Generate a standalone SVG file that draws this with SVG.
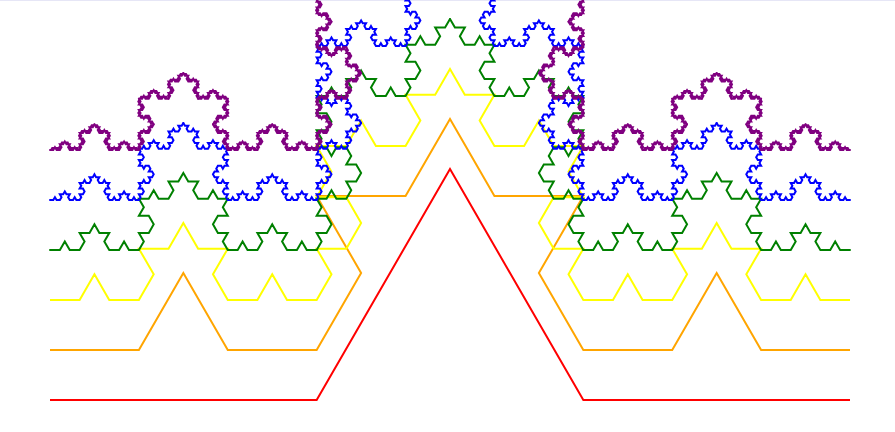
<svg xmlns="http://www.w3.org/2000/svg" xmlns:xlink="http://www.w3.org/1999/xlink" width="895" height="432" viewBox="0 0 895 432">
<style>
.k{fill:none;vector-effect:non-scaling-stroke;stroke-linejoin:miter;stroke-miterlimit:4}
.kr{fill:none;vector-effect:non-scaling-stroke;stroke-linejoin:miter;stroke-miterlimit:4;stroke-linecap:round}
.curve{fill:none;stroke-width:2}
</style>
<defs>
<!-- unit Koch curves: local units x = 1/54, y = (sqrt3/2)/27 -->
<path id="P1" class="k" d="M0,0 L18,0 27,-9 36,0 54,0"/>
<path id="P2" class="k" d="M0,0 L6,0 9,-3 12,0 18,0 21,-3 18,-6 24,-6 27,-9 30,-6 36,-6 33,-3 36,0 42,0 45,-3 48,0 54,0"/>
<path id="P3" class="k" d="M0,0 L2,0 3,-1 4,0 6,0 7,-1 6,-2 8,-2 9,-3 10,-2 12,-2 11,-1 12,0 14,0 15,-1 16,0 18,0 19,-1 18,-2 20,-2 21,-3 20,-4 18,-4 19,-5 18,-6 20,-6 21,-7 22,-6 24,-6 25,-7 24,-8 26,-8 27,-9 28,-8 30,-8 29,-7 30,-6 32,-6 33,-7 34,-6 36,-6 35,-5 36,-4 34,-4 33,-3 34,-2 36,-2 35,-1 36,0 38,0 39,-1 40,0 42,0 43,-1 42,-2 44,-2 45,-3 46,-2 48,-2 47,-1 48,0 50,0 51,-1 52,0 54,0"/>
<path id="P3r" class="kr" d="M0,0 L2,0 3,-1 4,0 6,0 7,-1 6,-2 8,-2 9,-3 10,-2 12,-2 11,-1 12,0 14,0 15,-1 16,0 18,0 19,-1 18,-2 20,-2 21,-3 20,-4 18,-4 19,-5 18,-6 20,-6 21,-7 22,-6 24,-6 25,-7 24,-8 26,-8 27,-9 28,-8 30,-8 29,-7 30,-6 32,-6 33,-7 34,-6 36,-6 35,-5 36,-4 34,-4 33,-3 34,-2 36,-2 35,-1 36,0 38,0 39,-1 40,0 42,0 43,-1 42,-2 44,-2 45,-3 46,-2 48,-2 47,-1 48,0 50,0 51,-1 52,0 54,0"/>
<g id="L3"><use xlink:href="#P3r" href="#P3r" transform="scale(0.0185185185,0.0320750150)"/></g>
<g id="L4">
<use xlink:href="#L3" href="#L3" transform="scale(0.3333333333)"/>
<use xlink:href="#L3" href="#L3" transform="translate(0.3333333333,0) rotate(-60) scale(0.3333333333)"/>
<use xlink:href="#L3" href="#L3" transform="translate(0.5,-0.2886751346) rotate(60) scale(0.3333333333)"/>
<use xlink:href="#L3" href="#L3" transform="translate(0.6666666667,0) scale(0.3333333333)"/>
</g>
<g id="L5">
<use xlink:href="#L4" href="#L4" transform="scale(0.3333333333)"/>
<use xlink:href="#L4" href="#L4" transform="translate(0.3333333333,0) rotate(-60) scale(0.3333333333)"/>
<use xlink:href="#L4" href="#L4" transform="translate(0.5,-0.2886751346) rotate(60) scale(0.3333333333)"/>
<use xlink:href="#L4" href="#L4" transform="translate(0.6666666667,0) scale(0.3333333333)"/>
</g>
<g id="L6">
<use xlink:href="#L5" href="#L5" transform="scale(0.3333333333)"/>
<use xlink:href="#L5" href="#L5" transform="translate(0.3333333333,0) rotate(-60) scale(0.3333333333)"/>
<use xlink:href="#L5" href="#L5" transform="translate(0.5,-0.2886751346) rotate(60) scale(0.3333333333)"/>
<use xlink:href="#L5" href="#L5" transform="translate(0.6666666667,0) scale(0.3333333333)"/>
</g>
</defs>
<rect x="0" y="0" width="895" height="432" fill="#ffffff"/>
<rect x="0" y="0" width="895" height="1" fill="#e6e6f6"/>
<use id="level1" class="curve" xlink:href="#P1" href="#P1" stroke="#ff0000" transform="translate(50,400) scale(14.8148148,25.660012)"/>
<use id="level2" class="curve" xlink:href="#P2" href="#P2" stroke="#ffa500" transform="translate(50,350) scale(14.8148148,25.660012)"/>
<use id="level3" class="curve" xlink:href="#P3" href="#P3" stroke="#ffff00" transform="translate(50,300) scale(14.8148148,25.660012)"/>
<use id="level4" class="curve" xlink:href="#L4" href="#L4" stroke="#008000" transform="translate(50,250) scale(800)"/>
<use id="level5" class="curve" xlink:href="#L5" href="#L5" stroke="#0000ff" transform="translate(50,200) scale(800)"/>
<use id="level6" class="curve" xlink:href="#L6" href="#L6" stroke="#800080" transform="translate(50,150) scale(800)"/>
</svg>
